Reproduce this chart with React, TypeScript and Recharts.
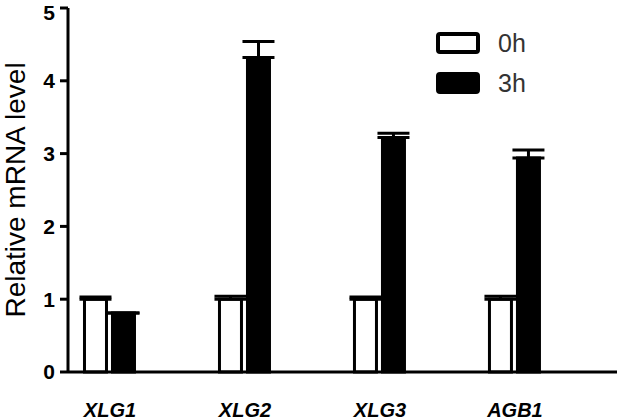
import { BarChart, Bar, XAxis, YAxis, ErrorBar, Legend } from 'recharts';

const genes = ['XLG1', 'XLG2', 'XLG3', 'AGB1'];
const h0 = [1.0, 1.0, 1.0, 1.0];
const h0Err = [0.03, 0.04, 0.03, 0.04];
const h3 = [0.81, 4.32, 3.22, 2.94];
const h3Err = [0, 0.22, 0.06, 0.11];
const yTicks = [0, 1, 2, 3, 4, 5];
const seriesNames = ['0h', '3h'];

const data = genes.map((g, i) => ({
  x: i,
  gene: g,
  h0: h0[i],
  h0e: [0, h0Err[i]],
  h3: h3[i],
  h3e: [0, h3Err[i]],
}));

const FONT = '"Liberation Sans", Arial, sans-serif';

// legend drawn as boxes on the top right
const renderLegend = () => (
  <div style={{ fontFamily: FONT }}>
    {seriesNames.map((name, i) => (
      <div key={name} style={{ display: 'flex', alignItems: 'center', height: 40 }}>
        <div
          style={{
            width: 36,
            height: 14,
            border: '4px solid #000',
            borderRadius: 4,
            background: i === 0 ? '#fff' : '#000',
          }}
        />
        <span style={{ marginLeft: 18, fontSize: 25, color: '#333' }}>{name}</span>
      </div>
    ))}
  </div>
);

const yLabel = ({ viewBox }: any) => {
  const cy = viewBox.y + viewBox.height / 2;
  return (
    <text
      x={15}
      y={cy}
      transform={`rotate(-90, 15, ${cy})`}
      textAnchor="middle"
      dominantBaseline="central"
      fontFamily={FONT}
      fontSize={28}
      fill="#000"
    >
      Relative mRNA level
    </text>
  );
};

export default function App() {
  return (
    <div style={{ position: 'absolute', left: 0, top: 0, background: '#fff' }}>
      <BarChart
        width={617}
        height={420}
        data={data}
        margin={{ top: 8, right: 0, left: 0, bottom: 0 }}
        barGap={6}
      >
        <XAxis
          dataKey="x"
          type="number"
          domain={[-0.311, 3.756]}
          ticks={[0, 1, 2, 3]}
          tickFormatter={(v: number) => genes[v]}
          tickLine={false}
          axisLine={{ stroke: '#000', strokeWidth: 3 }}
          tickMargin={25}
          height={48}
          tick={{ fill: '#000', fontFamily: FONT, fontSize: 20, fontWeight: 'bold', fontStyle: 'italic' }}
        />
        <YAxis
          domain={[0, 5]}
          ticks={yTicks}
          width={68}
          tickSize={8}
          tickMargin={5}
          axisLine={{ stroke: '#000', strokeWidth: 3 }}
          tickLine={{ stroke: '#000', strokeWidth: 3 }}
          tick={{ fill: '#000', fontFamily: FONT, fontSize: 21, fontWeight: 'bold' }}
          label={{ content: yLabel }}
        />
        <Legend
          layout="vertical"
          align="center"
          verticalAlign="middle"
          content={renderLegend}
          wrapperStyle={{ position: 'absolute', left: 436, top: 23, width: 'auto' }}
        />
        <Bar dataKey="h0" name="0h" fill="#fff" stroke="#000" strokeWidth={3} barSize={22} isAnimationActive={false}>
          <ErrorBar dataKey="h0e" width={16} stroke="#000" strokeWidth={3} isAnimationActive={false} />
        </Bar>
        <Bar dataKey="h3" name="3h" fill="#000" stroke="#000" strokeWidth={3} barSize={22} isAnimationActive={false}>
          <ErrorBar dataKey="h3e" width={16} stroke="#000" strokeWidth={3} isAnimationActive={false} />
        </Bar>
      </BarChart>
    </div>
  );
}
